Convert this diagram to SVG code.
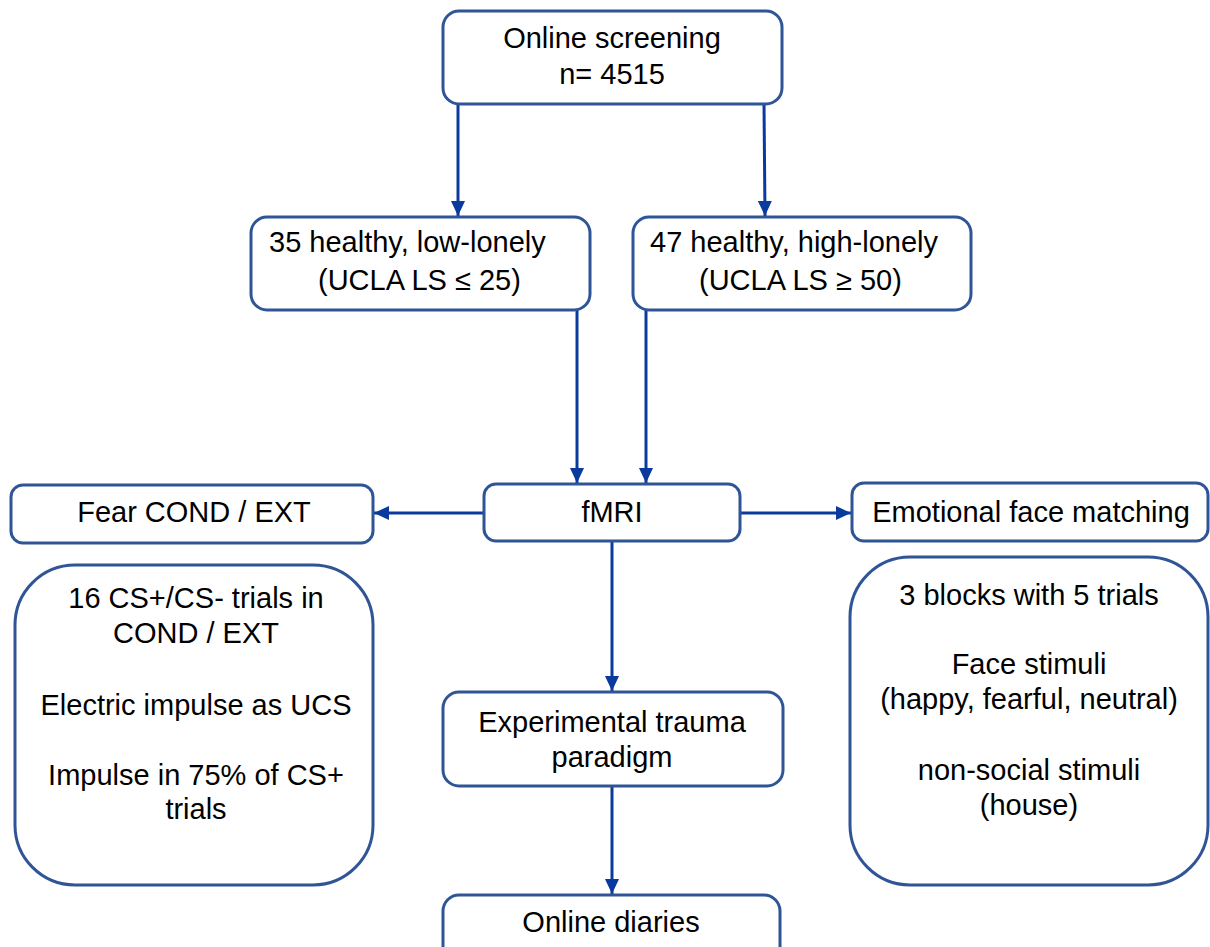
<svg xmlns="http://www.w3.org/2000/svg" width="1210" height="947" viewBox="0 0 1210 947">
<style>
.box{fill:#fff;stroke:#2F5597;stroke-width:3}
.t{font-family:"Liberation Sans",Arial,sans-serif;font-size:29px;fill:#000}
.c{text-anchor:middle}
.ln{stroke:#0A3A9E;stroke-width:3;fill:none;marker-end:url(#ah)}
</style>
<defs>
<marker id="ah" markerUnits="userSpaceOnUse" markerWidth="16" markerHeight="16" viewBox="0 0 16 16" refX="15" refY="8" orient="auto">
<path d="M0,1 L15,8 L0,15 Z" fill="#0A3A9E"/>
</marker>
</defs>
<rect width="1210" height="947" fill="#fff"/>
<g id="connectors">
<line class="ln" x1="458" y1="104" x2="458" y2="216"/>
<line class="ln" x1="764" y1="104" x2="765" y2="216"/>
<line class="ln" x1="577" y1="310" x2="577" y2="483"/>
<line class="ln" x1="646" y1="310" x2="646" y2="483"/>
<line class="ln" x1="484" y1="513" x2="374" y2="513"/>
<line class="ln" x1="740" y1="513" x2="851" y2="513"/>
<line class="ln" x1="612" y1="541" x2="612" y2="691"/>
<line class="ln" x1="612" y1="786" x2="612" y2="894"/>
</g>
<g id="screening">
<rect class="box" x="443" y="11" width="339" height="93" rx="16"/>
<text class="t c" x="612" y="48">Online screening</text>
<text class="t c" x="612" y="84">n= 4515</text>
</g>
<g id="low-lonely">
<rect class="box" x="251" y="217" width="339" height="93" rx="16"/>
<text class="t" x="269" y="252">35 healthy, low-lonely</text>
<text class="t" x="318" y="290">(UCLA LS ≤ 25)</text>
</g>
<g id="high-lonely">
<rect class="box" x="633" y="217" width="338" height="93" rx="16"/>
<text class="t" x="650" y="252">47 healthy, high-lonely</text>
<text class="t" x="699" y="290">(UCLA LS ≥ 50)</text>
</g>
<g id="fmri">
<rect class="box" x="484" y="484" width="256" height="57" rx="12"/>
<text class="t c" x="612" y="522">fMRI</text>
</g>
<g id="fear">
<rect class="box" x="11" y="485" width="362" height="58" rx="12"/>
<text class="t c" x="194" y="522">Fear COND / EXT</text>
</g>
<g id="emotional">
<rect class="box" x="852" y="483" width="356" height="58" rx="12"/>
<text class="t c" x="1031" y="522">Emotional face matching</text>
</g>
<g id="fear-details">
<rect class="box" x="15" y="565" width="358" height="320" rx="60"/>
<text class="t c" x="196" y="608">16 CS+/CS- trials in</text>
<text class="t c" x="196" y="643">COND / EXT</text>
<text class="t c" x="196" y="715">Electric impulse as UCS</text>
<text class="t c" x="196" y="785">Impulse in 75% of CS+</text>
<text class="t c" x="196" y="819">trials</text>
</g>
<g id="emotional-details">
<rect class="box" x="850" y="557" width="358" height="328" rx="60"/>
<text class="t c" x="1029" y="605">3 blocks with 5 trials</text>
<text class="t c" x="1029" y="674">Face stimuli</text>
<text class="t c" x="1029" y="709">(happy, fearful, neutral)</text>
<text class="t c" x="1029" y="780">non-social stimuli</text>
<text class="t c" x="1029" y="815">(house)</text>
</g>
<g id="trauma">
<rect class="box" x="443" y="692" width="340" height="94" rx="16"/>
<text class="t c" x="612" y="732">Experimental trauma</text>
<text class="t c" x="612" y="767">paradigm</text>
</g>
<g id="diaries">
<rect class="box" x="443" y="895" width="337" height="70" rx="16"/>
<text class="t c" x="611" y="932">Online diaries</text>
</g>
</svg>
